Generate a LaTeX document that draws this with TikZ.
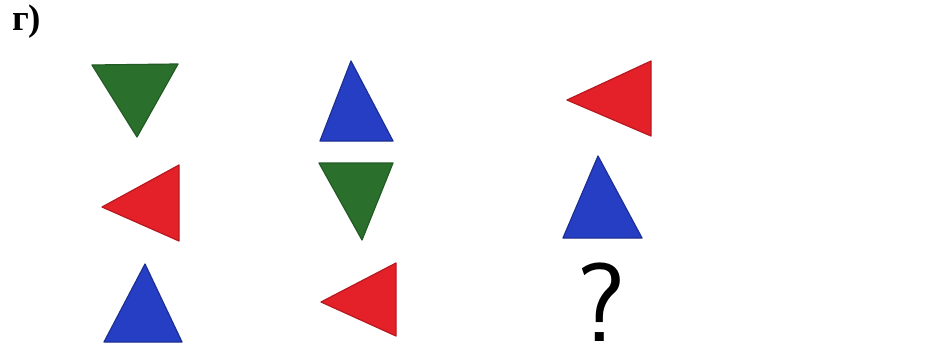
\documentclass[tikz,border=0pt]{standalone}
\usepackage{fontspec}
\newfontfamily\cyrfont{Liberation Serif}
\definecolor{tgreen}{RGB}{42,112,44}
\definecolor{tblue}{RGB}{38,62,196}
\definecolor{tred}{RGB}{228,32,40}
\tikzset{
  tri/.style={line join=round, line width=1.2pt},
  gtri/.style={tri, fill=tgreen, draw=tgreen!80!black},
  btri/.style={tri, fill=tblue, draw=tblue!75!black},
  rtri/.style={tri, fill=tred, draw=tred!80!black},
}
\begin{document}
\begin{tikzpicture}[x=1pt,y=-1pt]
\useasboundingbox (0,0) rectangle (932,353);
\fill[white] (0,0) rectangle (932,353);
% label
\node[anchor=base west, inner sep=0pt, font=\cyrfont\bfseries\fontsize{37}{37}\selectfont] (lab) at (12,31) {г)};
% row 1
\draw[gtri] (92,65) -- (178,64) -- (137,137) -- cycle;
\draw[btri] (351,61) -- (393,141) -- (320,141) -- cycle;
\draw[rtri] (567,100) -- (651,61) -- (651,136) -- cycle;
% row 2
\draw[rtri] (102,207) -- (179,165) -- (179,241) -- cycle;
\draw[gtri] (319,163) -- (393,163) -- (362,240) -- cycle;
\draw[btri] (598,156) -- (642,238) -- (563,238) -- cycle;
% row 3
\draw[btri] (145,264) -- (182,342) -- (104,342) -- cycle;
\draw[rtri] (321,302) -- (396,263) -- (396,336) -- cycle;
\node[anchor=south, inner sep=0pt, text depth=0pt, text height=78pt, font=\sffamily\fontsize{112}{112}\selectfont] (q) at (601,342) {?};
\end{tikzpicture}
\end{document}
